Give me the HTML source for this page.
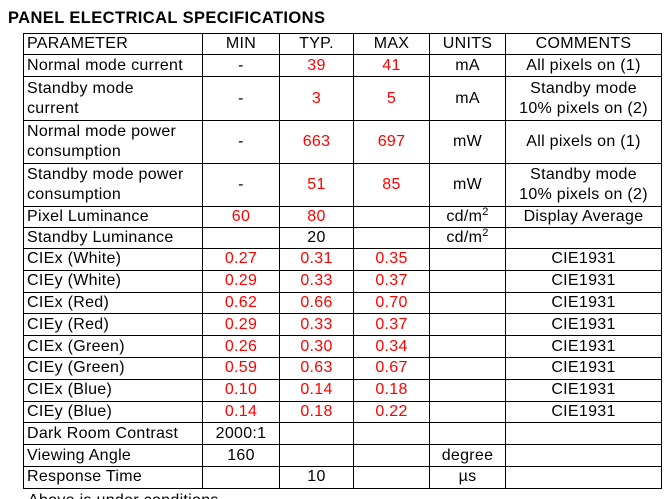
<!DOCTYPE html>
<html><head><style>
html,body{margin:0;padding:0;background:#fff;width:669px;height:499px;overflow:hidden;position:relative;font-family:"Liberation Sans",Arial,sans-serif}
h1{position:absolute;left:8px;top:9px;margin:0;font-size:16.5px;font-weight:bold;letter-spacing:0.4px}
table{position:absolute;left:23px;top:33px;border-collapse:collapse;table-layout:fixed;font-size:16px;line-height:20px;letter-spacing:0.3px}
td{border:1.5px solid #000;padding:0 2px;text-align:center;vertical-align:middle;overflow:hidden;white-space:nowrap}
td:first-child{text-align:left;padding-left:3px}
.r{color:#f00}
.foot{position:absolute;left:28px;top:491px;font-size:16px;line-height:19px;letter-spacing:0.3px}
sup{font-size:11px;vertical-align:6px;line-height:0}
</style></head><body>
<h1>PANEL ELECTRICAL SPECIFICATIONS</h1>
<table>
<colgroup><col style="width:179px"><col style="width:77px"><col style="width:74px"><col style="width:76px"><col style="width:76px"><col style="width:156px"></colgroup>
<tr style="height:21px"><td>PARAMETER</td><td>MIN</td><td>TYP.</td><td>MAX</td><td>UNITS</td><td>COMMENTS</td></tr>
<tr style="height:22px"><td>Normal mode current</td><td>-</td><td class="r">39</td><td class="r">41</td><td>mA</td><td>All pixels on (1)</td></tr>
<tr style="height:44px"><td>Standby mode<br>current</td><td>-</td><td class="r">3</td><td class="r">5</td><td>mA</td><td>Standby mode<br>10% pixels on (2)</td></tr>
<tr style="height:43px"><td>Normal mode power<br>consumption</td><td>-</td><td class="r">663</td><td class="r">697</td><td>mW</td><td>All pixels on (1)</td></tr>
<tr style="height:43px"><td>Standby mode power<br>consumption</td><td>-</td><td class="r">51</td><td class="r">85</td><td>mW</td><td>Standby mode<br>10% pixels on (2)</td></tr>
<tr style="height:21px"><td>Pixel Luminance</td><td class="r">60</td><td class="r">80</td><td></td><td>cd/m<sup>2</sup></td><td>Display Average</td></tr>
<tr style="height:21px"><td>Standby Luminance</td><td></td><td>20</td><td></td><td>cd/m<sup>2</sup></td><td></td></tr>
<tr style="height:21.8px"><td>CIEx (White)</td><td class="r">0.27</td><td class="r">0.31</td><td class="r">0.35</td><td></td><td>CIE1931</td></tr>
<tr style="height:21.8px"><td>CIEy (White)</td><td class="r">0.29</td><td class="r">0.33</td><td class="r">0.37</td><td></td><td>CIE1931</td></tr>
<tr style="height:21.8px"><td>CIEx (Red)</td><td class="r">0.62</td><td class="r">0.66</td><td class="r">0.70</td><td></td><td>CIE1931</td></tr>
<tr style="height:21.8px"><td>CIEy (Red)</td><td class="r">0.29</td><td class="r">0.33</td><td class="r">0.37</td><td></td><td>CIE1931</td></tr>
<tr style="height:21.8px"><td>CIEx (Green)</td><td class="r">0.26</td><td class="r">0.30</td><td class="r">0.34</td><td></td><td>CIE1931</td></tr>
<tr style="height:21.8px"><td>CIEy (Green)</td><td class="r">0.59</td><td class="r">0.63</td><td class="r">0.67</td><td></td><td>CIE1931</td></tr>
<tr style="height:21.8px"><td>CIEx (Blue)</td><td class="r">0.10</td><td class="r">0.14</td><td class="r">0.18</td><td></td><td>CIE1931</td></tr>
<tr style="height:21.8px"><td>CIEy (Blue)</td><td class="r">0.14</td><td class="r">0.18</td><td class="r">0.22</td><td></td><td>CIE1931</td></tr>
<tr style="height:21.8px"><td>Dark Room Contrast</td><td>2000:1</td><td></td><td></td><td></td><td></td></tr>
<tr style="height:21.8px"><td>Viewing Angle</td><td>160</td><td></td><td></td><td>degree</td><td></td></tr>
<tr style="height:21.8px"><td>Response Time</td><td></td><td>10</td><td></td><td>µs</td><td></td></tr>
</table>
<div class="foot">Above is under conditions</div>
</body></html>
